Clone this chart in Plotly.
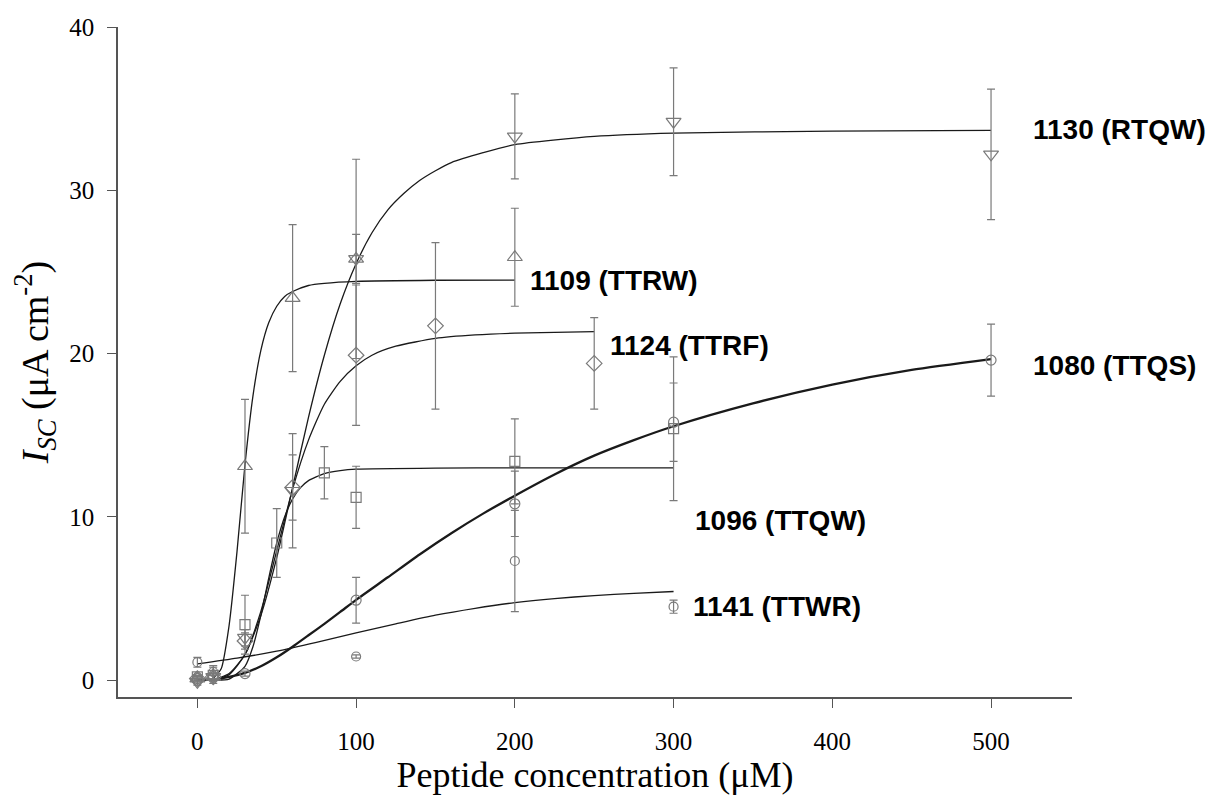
import plotly.graph_objects as go

# ---------------- measured data points ----------------
# 1080 (TTQS) - open circles
x_1080 = [0, 10, 30, 100, 200, 300, 500]
y_1080 = [0.1, 0.2, 0.4, 4.9, 10.8, 15.8, 19.6]
e_1080 = [0.1, 0.1, 0.15, 1.4, 2.0, 2.4, 2.2]

# 1096 (TTQW) - open squares
x_1096 = [0, 10, 30, 50, 80, 100, 200, 300]
y_1096 = [0.2, 0.3, 3.4, 8.4, 12.7, 11.2, 13.4, 15.4]
e_1096 = [0.1, 0.5, 1.8, 2.1, 1.6, 1.9, 2.6, 4.4]

# 1109 (TTRW) - open up-triangles
x_1109 = [0, 10, 30, 60, 100, 200]
y_1109 = [0.1, 0.2, 13.1, 23.4, 25.8, 25.9]
e_1109 = [0.1, 0.2, 4.1, 4.5, 1.5, 3.0]

# 1124 (TTRF) - open diamonds
x_1124 = [0, 10, 30, 60, 100, 150, 250]
y_1124 = [0.1, 0.2, 2.4, 11.8, 19.9, 21.7, 19.4]
e_1124 = [0.1, 0.2, 0.5, 2.0, 4.3, 5.1, 2.8]

# 1130 (RTQW) - open down-triangles
x_1130 = [0, 10, 30, 60, 100, 200, 300, 500]
y_1130 = [-0.1, 0.2, 2.6, 11.6, 25.8, 33.3, 34.2, 32.2]
e_1130 = [0.2, 0.2, 0.5, 3.5, 6.1, 2.6, 3.3, 4.0]

# 1141 (TTWR) - open circles with bar
x_1141 = [0, 10, 100, 200, 300]
y_1141 = [1.1, 0.5, 1.45, 7.3, 4.5]
e_1141 = [0.3, 0.4, 0.1, 3.1, 0.4]

# ---------------- fitted curves ----------------
cx_1080 = [0, 10, 20, 30, 40, 50, 60, 70, 80, 90, 100, 120, 140, 160, 180, 200,
           225, 250, 275, 300, 350, 400, 450, 500]
cy_1080 = [0, 0.05, 0.2, 0.45, 0.85, 1.4, 2.05, 2.75, 3.45, 4.18, 4.92, 6.3, 7.7, 9.0,
           10.2, 11.3, 12.6, 13.75, 14.7, 15.55, 16.95, 18.1, 19.0, 19.66]

cx_1096 = [0, 10, 20, 30, 35, 40, 45, 50, 55, 60, 65, 70, 80, 90, 100, 150, 200, 300]
cy_1096 = [0, 0.01, 0.07, 0.85, 2.05, 3.97, 6.27, 8.4, 10.01, 11.1, 11.79, 12.22, 12.65,
           12.83, 12.92, 12.99, 13.0, 13.0]

cx_1109 = [0, 5, 10, 15, 20, 25, 30, 35, 40, 45, 50, 55, 60, 70, 80, 100, 150, 200]
cy_1109 = [0, 0.0, 0.13, 0.7, 3.36, 7.9, 13.2, 17.4, 20.2, 21.9, 22.9, 23.5, 23.8, 24.17,
           24.3, 24.42, 24.49, 24.5]

cx_1124 = [0, 10, 20, 30, 40, 50, 60, 70, 80, 90, 100, 110, 125, 150, 175, 200, 250]
cy_1124 = [0, 0.02, 0.34, 1.57, 4.21, 7.93, 11.7, 14.7, 16.9, 18.3, 19.25, 19.9, 20.45,
           20.93, 21.14, 21.25, 21.34]

cx_1130 = [0, 10, 20, 30, 40, 50, 60, 70, 80, 90, 100, 110, 120, 130, 140, 150, 160, 180,
           200, 250, 300, 400, 500]
cy_1130 = [0, 0.04, 0.41, 1.57, 3.96, 7.5, 11.8, 16.1, 19.9, 23.05, 25.5, 27.4, 28.8, 29.8,
           30.6, 31.2, 31.7, 32.3, 32.8, 33.3, 33.5, 33.62, 33.67]

cx_1141 = [0, 25, 50, 75, 100, 125, 150, 175, 200, 225, 250, 275, 300]
cy_1141 = [1.0, 1.35, 1.78, 2.32, 2.9, 3.45, 3.98, 4.4, 4.75, 5.0, 5.18, 5.32, 5.43]

labels = ["1130 (RTQW)", "1109 (TTRW)", "1124 (TTRF)", "1080 (TTQS)", "1096 (TTQW)", "1141 (TTWR)"]
label_x = [525, 208, 259, 525, 312, 311]
label_y = [33.7, 24.45, 20.5, 19.3, 9.8, 4.5]

x_ticks = [0, 100, 200, 300, 400, 500]
y_ticks = [0, 10, 20, 30, 40]

MK = "#7a7a7a"
LN = "#1a1a1a"
SERIF = "Liberation Serif, Times New Roman, serif"

fig = go.Figure()

curves = [
    (cx_1141, cy_1141, 1.3),
    (cx_1096, cy_1096, 1.3),
    (cx_1124, cy_1124, 1.3),
    (cx_1109, cy_1109, 1.3),
    (cx_1130, cy_1130, 1.3),
    (cx_1080, cy_1080, 2.3),
]
for cx, cy, w in curves:
    fig.add_trace(go.Scatter(x=cx, y=cy, mode="lines",
                             line=dict(color=LN, width=w, shape="spline", smoothing=0.6),
                             hoverinfo="skip", showlegend=False))

series = [
    (x_1080, y_1080, e_1080, "circle-open", 10),
    (x_1096, y_1096, e_1096, "square-open", 10),
    (x_1109, y_1109, e_1109, "triangle-up-open", 13),
    (x_1124, y_1124, e_1124, "diamond-open", 12),
    (x_1130, y_1130, e_1130, "triangle-down-open", 13),
    (x_1141, y_1141, e_1141, "circle-open", 9),
]
for xs, ys, es, sym, sz in series:
    fig.add_trace(go.Scatter(
        x=xs, y=ys, mode="markers",
        marker=dict(symbol=sym, size=sz, color=MK, line=dict(color=MK, width=1.2)),
        error_y=dict(type="data", array=es, visible=True, color=MK, thickness=1.2, width=4),
        showlegend=False))

for t, lx, ly in zip(labels, label_x, label_y):
    fig.add_annotation(x=lx, y=ly, text="<b>" + t + "</b>", showarrow=False,
                       xanchor="left", yanchor="middle",
                       font=dict(family="Liberation Sans, Arial, sans-serif", size=28, color="black"))

# page body adds an 8px offset, so the figure is sized and placed to compensate
fig.update_layout(
    width=1207, height=795,
    margin=dict(l=110, r=143, t=19, b=106),
    paper_bgcolor="white", plot_bgcolor="white",
    font=dict(family=SERIF, color="black"),
)
fig.update_xaxes(range=[-50, 551], tickvals=x_ticks, ticktext=[str(v) for v in x_ticks],
                 automargin=False,
                 showline=True, linecolor="#555", linewidth=1.5, ticks="outside",
                 ticklen=9, tickcolor="#555", tickwidth=1.3, showgrid=False, zeroline=False,
                 tickfont=dict(size=25, family=SERIF),
                 ticklabelstandoff=12,
                 title=dict(text="Peptide concentration (μM)", standoff=8,
                            font=dict(size=36, family=SERIF)))
fig.update_yaxes(range=[-1.03, 40], tickvals=y_ticks, ticktext=[str(v) for v in y_ticks],
                 automargin=False,
                 showline=True, linecolor="#555", linewidth=1.5, ticks="outside",
                 ticklen=9, tickcolor="#555", tickwidth=1.3, showgrid=False, zeroline=False,
                 tickfont=dict(size=25, family=SERIF),
                 ticklabelstandoff=8,
                 title=dict(text="<i>I</i><sub><i>SC</i></sub> (μA cm<sup>-2</sup>)", standoff=10,
                            font=dict(size=38, family=SERIF)))

fig.write_html("out.html")
